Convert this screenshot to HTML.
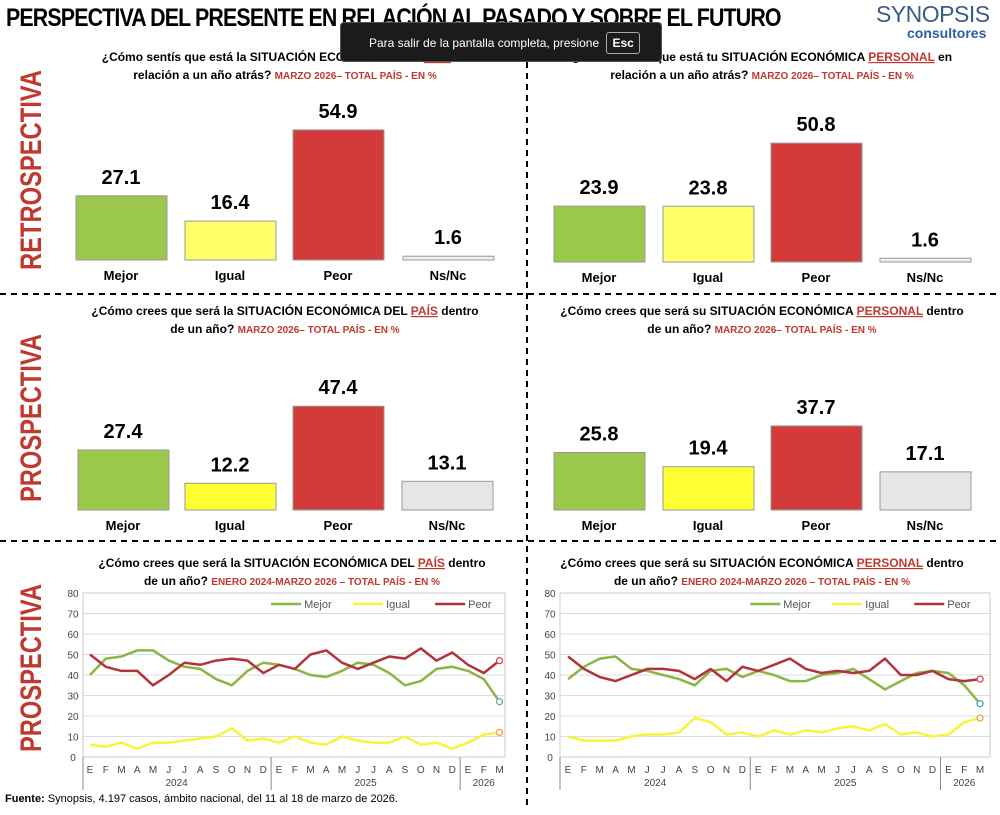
<!DOCTYPE html>
<html><head><meta charset="utf-8"><style>
body{margin:0;background:#fff;font-family:"Liberation Sans",sans-serif;}
#c{position:relative;width:1000px;height:815px;overflow:hidden;background:#fff;}
.t{position:absolute;white-space:nowrap;}
</style></head><body><div id="c">
<svg id="s" width="1000" height="815" style="position:absolute;left:0;top:0" font-family="Liberation Sans, sans-serif"></svg>
<div class="t" style="left:6px;top:4px;font-size:25px;font-weight:bold;letter-spacing:-1px;transform:scaleX(0.855);transform-origin:left">PERSPECTIVA DEL PRESENTE EN RELACIÓN AL PASADO Y SOBRE EL FUTURO</div>
<div class="t" style="left:876px;top:1px;font-size:23px;color:#3b5c86;letter-spacing:-0.5px">SYNOPSIS</div>
<div class="t" style="left:907px;top:25px;font-size:14px;font-weight:bold;color:#2d5ea0">consultores</div>
<div class="t" style="left:340px;top:22px;width:322px;height:40px;background:#1b1b1b;border:1px solid #555;border-radius:4px;color:#fff;font-size:12px;line-height:40px;padding-left:28px;box-sizing:border-box">Para salir de la pantalla completa, presione <span style="border:1px solid #aaa;border-radius:3px;padding:3px 5px;font-weight:bold;margin-left:4px">Esc</span></div>
</div>
<script>
const s=document.getElementById('s');let h='';
const R='#c0392f';
function txt(x,y,t,o){o=o||{};h+=`<text x="${x}" y="${y}" font-size="${o.fs||12}" fill="${o.c||'#000'}" font-weight="${o.b?'bold':'normal'}" text-anchor="${o.a||'middle'}" ${o.tl?`textLength="${o.tl}" lengthAdjust="spacingAndGlyphs"`:''} ${o.tr?`transform="${o.tr}"`:''}>${t}</text>`;}
h+=`<line x1="0" y1="294" x2="1000" y2="294" stroke="#000" stroke-width="2" stroke-dasharray="6,5"/>`;
h+=`<line x1="0" y1="541" x2="1000" y2="541" stroke="#000" stroke-width="2" stroke-dasharray="6,5"/>`;
h+=`<line x1="527" y1="62" x2="527" y2="805" stroke="#000" stroke-width="2" stroke-dasharray="6,5"/>`;
txt(41,170,'RETROSPECTIVA',{fs:30,b:1,c:R,tl:200,tr:'rotate(-90 41 170)'});
txt(41,418,'PROSPECTIVA',{fs:30,b:1,c:R,tl:168,tr:'rotate(-90 41 418)'});
txt(41,668,'PROSPECTIVA',{fs:30,b:1,c:R,tl:168,tr:'rotate(-90 41 668)'});
function q(x,y1,l1,l2){h+=`<text x="${x}" y="${y1}" font-size="12" font-weight="bold" text-anchor="middle">${l1}</text><text x="${x}" y="${y1+18}" font-size="12" font-weight="bold" text-anchor="middle">${l2}</text>`;}
const red=t=>`<tspan fill="${R}" font-size="10">${t}</tspan>`;
const u=t=>`<tspan fill="${R}" text-decoration="underline">${t}</tspan>`;
q(285,61,'¿Cómo sentís que está la SITUACIÓN ECONÓMICA DEL '+u('PAÍS')+' en','relación a un año atrás? '+red('MARZO 2026– TOTAL PAÍS - EN %'));
q(762,61,'¿Cómo sentís que está tu SITUACIÓN ECONÓMICA '+u('PERSONAL')+' en','relación a un año atrás? '+red('MARZO 2026– TOTAL PAÍS - EN %'));
q(285,315,'¿Cómo crees que será la SITUACIÓN ECONÓMICA DEL '+u('PAÍS')+' dentro','de un año? '+red('MARZO 2026– TOTAL PAÍS - EN %'));
q(762,315,'¿Cómo crees que será su SITUACIÓN ECONÓMICA '+u('PERSONAL')+' dentro','de un año? '+red('MARZO 2026– TOTAL PAÍS - EN %'));
q(292,567,'¿Cómo crees que será la SITUACIÓN ECONÓMICA DEL '+u('PAÍS')+' dentro','de un año? '+red('ENERO 2024-MARZO 2026 – TOTAL PAÍS - EN %'));
q(762,567,'¿Cómo crees que será su SITUACIÓN ECONÓMICA '+u('PERSONAL')+' dentro','de un año? '+red('ENERO 2024-MARZO 2026 – TOTAL PAÍS - EN %'));
const labs=['Mejor','Igual','Peor','Ns/Nc'];
function bars(xs,base,sc,vals,cols){vals.forEach((v,i)=>{const hh=Math.max(v*sc,3);h+=`<rect x="${xs[i]}" y="${base-hh}" width="91" height="${hh}" fill="${cols[i]}" stroke="#999" stroke-width="1"/>`;
txt(xs[i]+45,base-hh-12,v.toFixed(1),{fs:20,b:1});txt(xs[i]+45,base+20,labs[i],{fs:13,b:1});});}
const c1=['#9bc84b','#ffff6a','#d33b3b','#eeeeee'],c2=['#9bc84b','#ffff33','#d33b3b','#e6e6e6'];
bars([76,185,293,403],260,2.37,[27.1,16.4,54.9,1.6],c1);
bars([554,663,771,880],262,2.34,[23.9,23.8,50.8,1.6],c1);
bars([78,185,293,402],510,2.19,[27.4,12.2,47.4,13.1],c2);
bars([554,663,771,880],510,2.23,[25.8,19.4,37.7,17.1],c2);
const M='EFMAMJJASOND'.split('').concat('EFMAMJJASOND'.split('')).concat(['E','F','M']);
function lc(x0,dx,left,right,sets){
 for(let v=0;v<=80;v+=10){const y=757-v*2.05;h+=`<line x1="${left}" y1="${y}" x2="${right}" y2="${y}" stroke="${v?'#dcdcdc':'#888'}"/>`;txt(left-10,y+4,v,{fs:10,c:'#444'});}
 h+=`<rect x="${left}" y="593" width="${right-left}" height="164" fill="none" stroke="#ccc"/>`;
 M.forEach((m,i)=>txt(x0+i*dx,773,m,{fs:10,c:'#444'}));
 [left,x0+11.5*dx,x0+23.5*dx].forEach(x=>h+=`<line x1="${x}" y1="757" x2="${x}" y2="790" stroke="#888"/>`);
 txt(x0+5.5*dx,786,'2024',{fs:10,c:'#444'});txt(x0+17.5*dx,786,'2025',{fs:10,c:'#444'});txt(x0+25*dx,786,'2026',{fs:10,c:'#444'});
 sets.forEach(([d,c,ec])=>{const p=d.map((v,i)=>`${(x0+i*dx).toFixed(1)},${(757-v*2.05).toFixed(1)}`).join(' ');h+=`<polyline points="${p}" fill="none" stroke="${c}" stroke-width="2.5" stroke-linejoin="round"/>`;
 const lx=x0+26*dx,ly=757-d[26]*2.05;h+=`<circle cx="${lx}" cy="${ly}" r="3" fill="#fff" stroke="${ec}" stroke-width="1.2"/>`;});
 const lgx=x0+dx*11.5;[['Mejor','#8db543'],['Igual','#f5f53a'],['Peor','#b0343c']].forEach(([n,c],i)=>{const x=lgx+i*82;h+=`<line x1="${x}" y1="604" x2="${x+30}" y2="604" stroke="${c}" stroke-width="2.5"/>`;txt(x+33,608,n,{fs:11,c:'#555',a:'start'});});
}
lc(90,15.75,83,505,[[ [6,5,7,4,7,7,8,9,10,14,8,9,7,10,7,6,10,8,7,7,10,6,7,4,7,11,12],'#f5f53a','#f09a3a'],
[[40,48,49,52,52,47,44,43,38,35,42,46,45,43,40,39,42,46,45,41,35,37,43,44,42,38,27],'#8db543','#5bb0a0'],
[[50,44,42,42,35,40,46,45,47,48,47,41,45,43,50,52,46,43,46,49,48,53,47,51,45,41,47],'#b0343c','#d04050']]);
lc(568,15.85,560,990,[[ [10,8,8,8,10,11,11,12,19,17,11,12,10,13,11,13,12,14,15,13,16,11,12,10,11,17,19],'#f5f53a','#f09a3a'],
[[38,44,48,49,43,42,40,38,35,42,43,39,42,40,37,37,40,41,43,38,33,37,41,42,41,35,26],'#8db543','#3a9ab0'],
[[49,43,39,37,40,43,43,42,38,43,37,44,42,45,48,43,41,42,41,42,48,40,40,42,38,37,38],'#b0343c','#d04050']]);
h+=`<text x="5" y="802" font-size="11"><tspan font-weight="bold">Fuente:</tspan> Synopsis, 4.197 casos, ámbito nacional, del 11 al 18 de marzo de 2026.</text>`;
s.innerHTML=h;
</script>
</body></html>
